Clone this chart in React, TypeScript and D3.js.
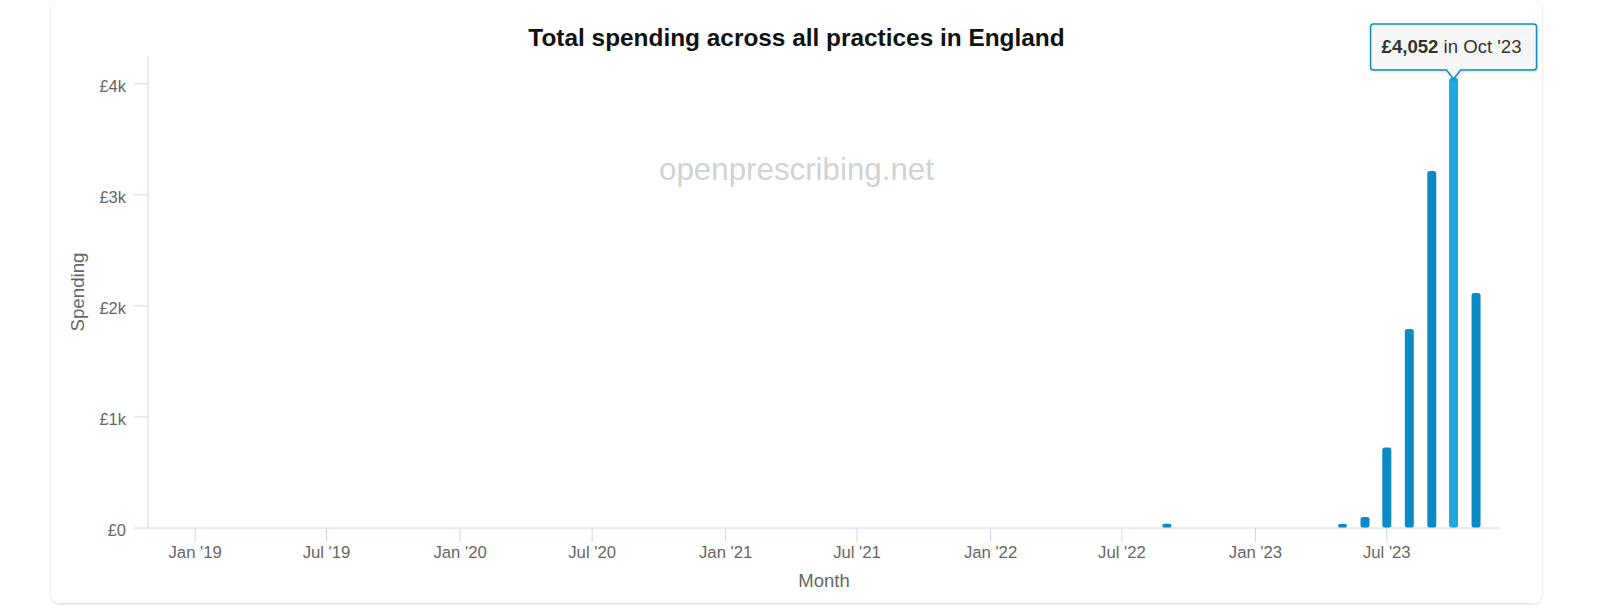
import React from "react";
import * as d3 from "d3";

// Monthly spending (£), Dec 2018 – Nov 2023
const monthStarts: string[] = [
  "2018-12", "2019-01", "2019-02", "2019-03", "2019-04", "2019-05", "2019-06", "2019-07", "2019-08", "2019-09", "2019-10", "2019-11", "2019-12",
  "2020-01", "2020-02", "2020-03", "2020-04", "2020-05", "2020-06", "2020-07", "2020-08", "2020-09", "2020-10", "2020-11", "2020-12",
  "2021-01", "2021-02", "2021-03", "2021-04", "2021-05", "2021-06", "2021-07", "2021-08", "2021-09", "2021-10", "2021-11", "2021-12",
  "2022-01", "2022-02", "2022-03", "2022-04", "2022-05", "2022-06", "2022-07", "2022-08", "2022-09", "2022-10", "2022-11", "2022-12",
  "2023-01", "2023-02", "2023-03", "2023-04", "2023-05", "2023-06", "2023-07", "2023-08", "2023-09", "2023-10", "2023-11",
];
const spending: number[] = [
  0, 0, 0, 0, 0, 0, 0, 0, 0, 0, 0, 0, 0,
  0, 0, 0, 0, 0, 0, 0, 0, 0, 0, 0, 0,
  0, 0, 0, 0, 0, 0, 0, 0, 0, 0, 0, 0,
  0, 0, 0, 0, 0, 0, 0, 0, 38, 0, 0, 0,
  0, 0, 0, 0, 36, 100, 724, 1792, 3215, 4052, 2116,
];
const yTicks: number[] = [0, 1000, 2000, 3000, 4000];
const yTickLabels: string[] = ["£0", "£1k", "£2k", "£3k", "£4k"];
const xTickMonths: string[] = [
  "2019-01", "2019-07", "2020-01", "2020-07", "2021-01", "2021-07", "2022-01", "2022-07", "2023-01", "2023-07",
];
const highlightedMonth = "2023-10";

const TITLE = "Total spending across all practices in England";
const WATERMARK = "openprescribing.net";

const parseMonth = d3.timeParse("%Y-%m");
const fmtTick = (d: Date) => d3.timeFormat("%b '%y")(d);
const fmtTipMonth = d3.timeFormat("%b '%y");
const fmtMoney = (v: number) => "£" + d3.format(",")(v);

const FONT = "'Liberation Sans', Arial, Helvetica, sans-serif";
const AXIS = "#ccd6eb";
const BAR = "#0a8ac6";
const BAR_HOVER = "#1ea7e1";

export default function App() {
  const W = 1600;
  const H = 606;
  const plot = { left: 148, right: 1500, top: 56, bottom: 528 };

  const x = d3
    .scaleTime()
    .domain([new Date(2018, 9, 28), new Date(2023, 11, 4)])
    .range([plot.left, plot.right]);
  const y = d3.scaleLinear().domain([0, 4250]).range([plot.bottom, plot.top]);

  const data = monthStarts.map((m, i) => ({ key: m, date: parseMonth(m) as Date, value: spending[i] }));
  const barW = 9;

  const hi = data.find((d) => d.key === highlightedMonth)!;
  const tipX = x(hi.date);
  const tipTipY = y(hi.value) + 1;
  const boxW = 166;
  const boxH = 46;
  const boxBottom = tipTipY - 9;
  const boxTop = boxBottom - boxH;
  const boxLeft = Math.min(tipX - boxW / 2, 1540 - boxW);
  const boxRight = boxLeft + boxW;
  const r = 3;
  const calloutPath = [
    `M ${boxLeft + r} ${boxTop}`,
    `L ${boxRight - r} ${boxTop}`,
    `Q ${boxRight} ${boxTop} ${boxRight} ${boxTop + r}`,
    `L ${boxRight} ${boxBottom - r}`,
    `Q ${boxRight} ${boxBottom} ${boxRight - r} ${boxBottom}`,
    `L ${tipX + 7} ${boxBottom}`,
    `L ${tipX} ${tipTipY}`,
    `L ${tipX - 7} ${boxBottom}`,
    `L ${boxLeft + r} ${boxBottom}`,
    `Q ${boxLeft} ${boxBottom} ${boxLeft} ${boxBottom - r}`,
    `L ${boxLeft} ${boxTop + r}`,
    `Q ${boxLeft} ${boxTop} ${boxLeft + r} ${boxTop}`,
    "Z",
  ].join(" ");

  const cardLeft = 51;
  const cardRight = 1542;
  const chartCenter = (cardLeft + cardRight) / 2;

  return (
    <svg
      width={W}
      height={H}
      style={{ position: "absolute", left: 0, top: 0, background: "#fff" }}
      fontFamily={FONT}
    >
      <defs>
        <filter id="cardShadow" x="-5%" y="-5%" width="110%" height="110%">
          <feDropShadow dx="0" dy="1" stdDeviation="1.6" floodColor="#000" floodOpacity="0.16" />
        </filter>
        <filter id="tipShadow" x="-10%" y="-20%" width="120%" height="150%">
          <feDropShadow dx="1" dy="1" stdDeviation="1.2" floodColor="#000" floodOpacity="0.12" />
        </filter>
      </defs>

      {/* card */}
      <rect
        x={cardLeft}
        y={0}
        width={cardRight - cardLeft}
        height={603}
        rx={9}
        fill="#fff"
        filter="url(#cardShadow)"
      />

      {/* title */}
      <text x={chartCenter} y={46} textAnchor="middle" fontSize={24.4} fontWeight="bold" fill="#111">
        {TITLE}
      </text>

      {/* watermark */}
      <text x={chartCenter} y={180} textAnchor="middle" fontSize={31.3} fill="#d2d2d2">
        {WATERMARK}
      </text>

      {/* y axis */}
      <line x1={plot.left} x2={plot.left} y1={plot.top} y2={plot.bottom} stroke={AXIS} strokeWidth={1} />
      {yTicks.map((t, i) => (
        <g key={t}>
          <line x1={plot.left - 14} x2={plot.left} y1={y(t)} y2={y(t)} stroke={AXIS} strokeWidth={1} />
          <text x={126} y={y(t) + 8} textAnchor="end" fontSize={16.5} fill="#666">
            {yTickLabels[i]}
          </text>
        </g>
      ))}
      <text
        transform={`translate(${84}, ${(plot.top + plot.bottom) / 2}) rotate(-90)`}
        textAnchor="middle"
        fontSize={18.7}
        fill="#666"
      >
        Spending
      </text>

      {/* x axis */}
      <line x1={plot.left} x2={plot.right} y1={plot.bottom} y2={plot.bottom} stroke={AXIS} strokeWidth={1} />
      {xTickMonths.map((m) => {
        const d = parseMonth(m) as Date;
        const px = x(d);
        return (
          <g key={m}>
            <line x1={px} x2={px} y1={plot.bottom} y2={plot.bottom + 14} stroke={AXIS} strokeWidth={1} />
            <text x={px} y={558} textAnchor="middle" fontSize={16.7} fill="#666">
              {fmtTick(d)}
            </text>
          </g>
        );
      })}
      <text x={(plot.left + plot.right) / 2} y={587} textAnchor="middle" fontSize={18.5} fill="#666">
        Month
      </text>

      {/* bars */}
      {data
        .filter((d) => d.value > 0)
        .map((d) => {
          const top = y(d.value);
          const h = plot.bottom - 0.5 - top;
          return (
            <rect
              key={d.key}
              x={x(d.date) - barW / 2}
              y={top}
              width={barW}
              height={h}
              rx={Math.min(2.5, h / 2)}
              fill={d.key === highlightedMonth ? BAR_HOVER : BAR}
            />
          );
        })}

      {/* export menu glyph, partly behind the tooltip */}
      <rect x={1500} y={33} width={27} height={4} fill="#dcdcdc" />

      {/* tooltip */}
      <path d={calloutPath} fill="rgba(247,247,247,0.88)" stroke={BAR} strokeWidth={1.5} filter="url(#tipShadow)" />
      <text x={boxLeft + 11} y={boxTop + 29.5} fontSize={18.6} fill="#333">
        <tspan fontWeight="bold">{fmtMoney(hi.value)}</tspan>
        <tspan>{" in " + fmtTipMonth(hi.date)}</tspan>
      </text>
    </svg>
  );
}
